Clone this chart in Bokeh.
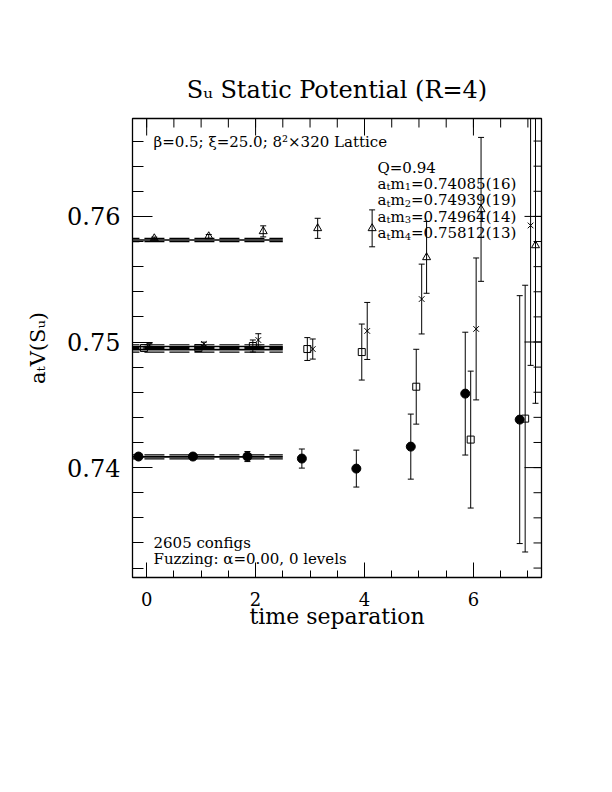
import numpy as np
from math import pi
from bokeh.plotting import figure
from bokeh.models import Range1d, FixedTicker, Label
from bokeh.embed import file_html
from bokeh.resources import INLINE

# ---------------- data ----------------
t = [0, 1, 2, 3, 4, 5, 6, 7]

circ_val = [0.74088, 0.74088, 0.74088, 0.74072, 0.73992, 0.74167, 0.74589, 0.74382]
circ_err = [0.00010, 0.00012, 0.00040, 0.00076, 0.00147, 0.00259, 0.00489, 0.00987]

sq_val = [0.74952, 0.74952, 0.74968, 0.74944, 0.74920, 0.74644, 0.74223, 0.74390]
sq_err = [0.00010, 0.00015, 0.00048, 0.00091, 0.00223, 0.00298, 0.00545, 0.01062]

cr_val = [0.74976, 0.74984, 0.75016, 0.74944, 0.75088, 0.75342, 0.75104, 0.75928]
cr_err = [0.00010, 0.00015, 0.00050, 0.00080, 0.00227, 0.00278, 0.00565, 0.01114]

tri_val = [0.75825, 0.75841, 0.75881, 0.75905, 0.75905, 0.75674, 0.76056, 0.75769]
tri_err = [0.00010, 0.00015, 0.00044, 0.00080, 0.00147, 0.00286, 0.00573, 0.01257]

fit_vals = [0.74085, 0.74939, 0.74964, 0.75812]
fit_errs = [0.00016, 0.00019, 0.00014, 0.00013]
fit_labels = ["0.74085(16)", "0.74939(19)", "0.74964(14)", "0.75812(13)"]
fit_tmin, fit_tmax = 0, 2

x_major = [0, 2, 4, 6]
x_minor = [v * 0.5 for v in range(-1, 16)]
y_major = [0.74, 0.75, 0.76]
y_minor = [round(0.730 + 0.002 * k, 3) for k in range(0, 20)]

title_text = "Sᵤ Static Potential (R=4)"
xlabel_text = "time separation"
ylabel_text = "aₜV(Sᵤ)"

# ---------------- layout ----------------
X0, X1 = -0.26, 7.25
Y0, Y1 = 0.731249, 0.767796
W, H = 590, 670
FL, FT, FW, FH = 132, 118, 409, 459
FONT = "DejaVu Serif"

p = figure(width=W, height=H, x_range=Range1d(X0, X1), y_range=Range1d(Y0, Y1),
           output_backend="svg", toolbar_location=None,
           min_border_left=FL, min_border_top=FT,
           min_border_right=W - FL - FW, min_border_bottom=H - FT - FH)
p.xgrid.visible = False
p.ygrid.visible = False
p.outline_line_color = "black"
p.outline_line_width = 1.3
p.background_fill_color = "white"
p.border_fill_color = "white"

p.title.text = title_text
p.title.text_font = FONT
p.title.text_font_size = "24px"
p.title.text_font_style = "normal"
p.title.text_color = "black"
p.title.align = "center"
p.title.standoff = 29

def style_axis(ax, major_in, minor_in, label_size):
    ax.major_tick_in = major_in
    ax.major_tick_out = 0
    ax.minor_tick_in = minor_in
    ax.minor_tick_out = 0
    ax.major_tick_line_color = "black"
    ax.minor_tick_line_color = "black"
    ax.major_tick_line_width = 1
    ax.minor_tick_line_width = 1
    ax.axis_line_color = "black"
    ax.major_label_text_font = FONT
    ax.major_label_text_font_size = label_size
    ax.major_label_text_color = "black"
    ax.axis_label_text_font = FONT
    ax.axis_label_text_font_style = "normal"
    ax.axis_label_text_color = "black"

xt = FixedTicker(ticks=x_major, minor_ticks=x_minor)
yt = FixedTicker(ticks=y_major, minor_ticks=y_minor)

p.xaxis.ticker = xt
p.yaxis.ticker = yt
style_axis(p.xaxis[0], 15, 7, "18px")
style_axis(p.yaxis[0], 20, 11, "24px")
p.xaxis.major_label_standoff = 14
p.yaxis.major_label_standoff = 12
p.xaxis.axis_label = xlabel_text
p.xaxis.axis_label_text_font_size = "22px"
p.xaxis.axis_label_standoff = -5
p.yaxis.axis_label = ylabel_text
p.yaxis.axis_label_text_font_size = "21px"
p.yaxis.axis_label_standoff = 14

# mirror ticks on top and right edges (half of each dash is clipped by the frame)
p.scatter(x=x_major, y=[Y1] * len(x_major), marker="dash", angle=pi / 2, size=34, line_color="black", line_width=1)
p.scatter(x=x_minor, y=[Y1] * len(x_minor), marker="dash", angle=pi / 2, size=18, line_color="black", line_width=1)
p.scatter(x=[X1] * len(y_major), y=y_major, marker="dash", size=34, line_color="black", line_width=1)
p.scatter(x=[X1] * len(y_minor), y=y_minor, marker="dash", size=16, line_color="black", line_width=1)

# ---------------- fits ----------------
fx0 = [fit_tmin - 0.5] * len(fit_vals)
fx1 = [fit_tmax + 0.5] * len(fit_vals)
fv = np.array(fit_vals)
fe = np.array(fit_errs)
p.segment(x0=fx0, x1=fx1, y0=fv, y1=fv, line_color="black", line_width=1.6)
p.segment(x0=fx0, x1=fx1, y0=fv + fe, y1=fv + fe, line_color="black", line_width=1.2, line_dash="20 5")
p.segment(x0=fx0, x1=fx1, y0=fv - fe, y1=fv - fe, line_color="black", line_width=1.2, line_dash="20 5")

# ---------------- data series ----------------
series = [
    (circ_val, circ_err, -0.15, dict(marker="circle", size=9, fill_color="black", line_color="black")),
    (sq_val, sq_err, -0.05, dict(marker="square", size=7, fill_color=None, line_color="black", line_width=1)),
    (cr_val, cr_err, 0.05, dict(marker="x", size=8, line_color="black", line_width=1)),
    (tri_val, tri_err, 0.14, dict(marker="triangle", size=8, fill_color=None, line_color="black", line_width=1)),
]
for vals, errs, off, mk in series:
    xs = np.array(t) + off
    v = np.array(vals)
    e = np.array(errs)
    p.segment(x0=xs, x1=xs, y0=v - e, y1=v + e, line_color="black", line_width=1)
    p.scatter(x=xs, y=v + e, marker="dash", size=6, line_color="black", line_width=1)
    p.scatter(x=xs, y=v - e, marker="dash", size=6, line_color="black", line_width=1)
for vals, errs, off, mk in series:
    xs = np.array(t) + off
    p.scatter(x=xs, y=vals, **mk)

# ---------------- text inside the frame ----------------
W_EM = {'S': 0.685, 'a': 0.596, 'm': 0.948, 't': 0.402, 'u': 0.644, 'V': 0.722,
        '(': 0.39, ')': 0.39, ' ': 0.318, '1': 0.636, '2': 0.636, '3': 0.636, '4': 0.636}

def tw(s, size):
    return sum(W_EM.get(c, 0.6) for c in s) * size

def DX(px):
    return X0 + (px - FL) / FW * (X1 - X0)

def DY(py):
    return Y1 - (py - FT) / FH * (Y1 - Y0)

def hlabel(pieces, px, py):
    x = px
    for txt, size, dy in pieces:
        p.add_layout(Label(x=DX(x), y=DY(py + dy), text=txt, text_font=FONT,
                           text_font_size=f"{size}px", text_align="left",
                           text_baseline="alphabetic", text_color="black"))
        x += tw(txt, size)

hlabel([("β=0.5; ξ=25.0; 8²×320 Lattice", 15, 0)], 153, 141)
hlabel([("Q=0.94", 15, 0)], 377, 167)
for i, lab in enumerate(fit_labels):
    hlabel([("a", 15, 0), ("t", 10, 3), ("m", 15, 0), (str(i + 1), 10, 3), ("=" + lab, 15, 0)],
           377, 183 + 16.5 * i)
hlabel([("2605 configs", 15, 0)], 153, 542)
hlabel([("Fuzzing: α=0.00, 0 levels", 15, 0)], 153, 558)

open("out.html", "w").write(file_html(p, INLINE))
